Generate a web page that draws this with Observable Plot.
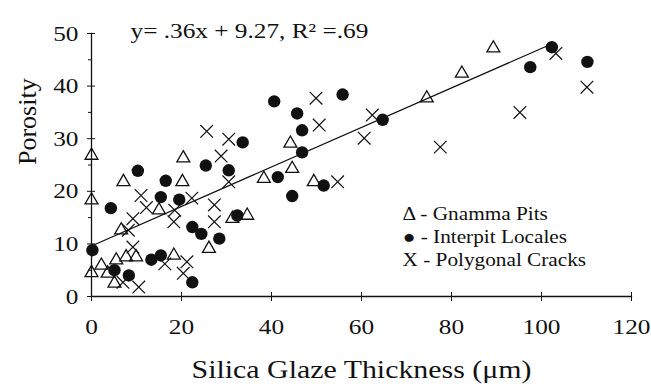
<!DOCTYPE html>
<html>
<head>
<meta charset="utf-8">
<script src="https://cdn.jsdelivr.net/npm/d3@7"></script>
<script src="https://cdn.jsdelivr.net/npm/@observablehq/plot@0.6"></script>
<style>
  html, body { margin: 0; padding: 0; background: #fff; }
</style>
</head>
<body>
<div id="chart"></div>
<script>
// Gnamma Pits (open triangles)
const gnammaX = [0, 0, 0, 2.2, 3.6, 5.1, 5.5, 6.6, 7.1, 7.7, 9.9, 15.0, 18.3, 20.4, 20.2, 26.1, 31.3, 34.6, 38.3, 44.2, 44.6, 49.4, 74.5, 82.3, 89.3];
const gnammaY = [26.8, 18.3, 4.5, 5.9, 4.4, 2.5, 6.9, 12.6, 21.8, 7.5, 7.5, 16.4, 7.8, 26.3, 21.8, 9.1, 14.8, 15.4, 22.4, 29.1, 24.3, 21.8, 37.7, 42.4, 47.2];

// Interpit Locales (filled circles)
const interpitX = [0.2, 4.3, 5.1, 8.3, 10.3, 13.3, 15.4, 15.4, 16.5, 19.5, 22.4, 22.4, 24.4, 25.4, 28.4, 30.5, 32.4, 33.6, 40.6, 41.4, 44.6, 45.7, 46.8, 46.8, 51.6, 55.8, 64.7, 97.5, 102.3, 110.2];
const interpitY = [8.8, 16.8, 5.0, 4.0, 23.9, 7.0, 7.8, 18.9, 22.0, 18.4, 2.7, 13.2, 11.9, 24.9, 11.0, 24.0, 15.4, 29.3, 37.1, 22.7, 19.1, 34.8, 31.6, 27.4, 21.1, 38.4, 33.6, 43.6, 47.4, 44.6];

// Polygonal Cracks (crosses)
const crackX = [7.0, 10.5, 9.2, 8.2, 9.2, 11.0, 12.2, 16.3, 18.5, 18.3, 20.4, 21.2, 22.3, 25.6, 27.3, 27.3, 28.8, 30.5, 30.5, 49.9, 50.6, 54.7, 60.6, 62.4, 77.5, 95.2, 103.2, 110.1];
const crackY = [2.7, 1.8, 9.4, 12.6, 14.8, 19.2, 16.9, 6.2, 16.4, 14.2, 4.4, 6.6, 18.7, 31.4, 17.4, 14.2, 26.7, 29.9, 21.8, 37.7, 32.6, 21.8, 30.1, 34.5, 28.4, 35.0, 46.2, 39.8];

// Fitted line endpoints as drawn
const fitX = [0, 102.5];
const fitY = [9.6, 48.1];

const xTicks = [0, 20, 40, 60, 80, 100, 120];
const yTicks = [0, 10, 20, 30, 40, 50];
const yMinorTicks = [5, 15, 25, 35, 45];

const equation = "y= .36x + 9.27, R² =.69";
const xTitle = "Silica Glaze Thickness (μm)";
const yTitle = "Porosity";
const legendLines = ["Δ - Gnamma Pits", "● - Interpit Locales", "X - Polygonal Cracks"];

const toPts = (xs, ys) => xs.map((x, i) => ({x, y: ys[i]}));
const gnamma = toPts(gnammaX, gnammaY);
const interpit = toPts(interpitX, interpitY);
const cracks = toPts(crackX, crackY);
const fit = toPts(fitX, fitY);

const font = "'Liberation Serif', 'Times New Roman', serif";
const ink = "#111";

const chart = Plot.plot({
  width: 651,
  height: 387,
  marginLeft: 91,
  marginRight: 20,
  marginTop: 33,
  marginBottom: 91,
  x: {domain: [0, 120]},
  y: {domain: [0, 50]},
  style: {fontFamily: font, background: "#fff", color: ink},
  marks: [
    Plot.frame({anchor: "bottom", stroke: ink, strokeWidth: 1.3}),
    Plot.frame({anchor: "left", stroke: ink, strokeWidth: 1.3}),
    Plot.axisX(xTicks, {tickSize: 9, dy: -4, tickFormat: () => "", label: null, stroke: ink}),
    Plot.axisY(yTicks, {tickSize: 8, dx: 4, tickFormat: () => "", label: null, stroke: ink}),
    Plot.axisY(yMinorTicks, {tickSize: 3, tickFormat: () => "", label: null, stroke: ink}),
    Plot.axisX(xTicks, {tickSize: 0, tickPadding: 22, fontSize: 22, label: null, fill: ink}),
    Plot.axisY(yTicks, {tickSize: 0, tickPadding: 13, fontSize: 22, label: null, fill: ink}),
    Plot.line(fit, {x: "x", y: "y", stroke: ink, strokeWidth: 1.3}),
    Plot.dot(gnamma, {x: "x", y: "y", symbol: "triangle", r: 4.8, stroke: ink, strokeWidth: 1.3, fill: "none"}),
    Plot.dot(interpit, {x: "x", y: "y", symbol: "circle", r: 6.2, fill: ink, stroke: "none"}),
    Plot.dot(cracks, {x: "x", y: "y", symbol: "times", r: 5.8, stroke: ink, strokeWidth: 1.2}),
    Plot.text([equation], {frameAnchor: "top-left", dx: 39, dy: -3, textAnchor: "start", lineAnchor: "middle", fontSize: 22, fill: ink}),
    Plot.text([legendLines.join("\n")], {frameAnchor: "top-left", dx: 311, dy: 202, textAnchor: "start", lineAnchor: "middle", lineHeight: 1.24, fontSize: 18.5, fill: ink}),
    Plot.text([xTitle], {frameAnchor: "bottom", dy: 73, lineAnchor: "middle", fontSize: 26, fill: ink}),
    Plot.text([yTitle], {frameAnchor: "left", dx: -64, rotate: -90, lineAnchor: "middle", fontSize: 26, fill: ink})
  ]
});
// The reference's serif type is set a little wide: stretch unrotated text horizontally.
chart.querySelectorAll("text").forEach((t) => {
  const tr = t.getAttribute("transform") || "";
  if (!tr.includes("rotate")) t.setAttribute("transform", (tr + " scale(1.15,1)").trim());
});
document.getElementById("chart").appendChild(chart);
</script>
</body>
</html>
